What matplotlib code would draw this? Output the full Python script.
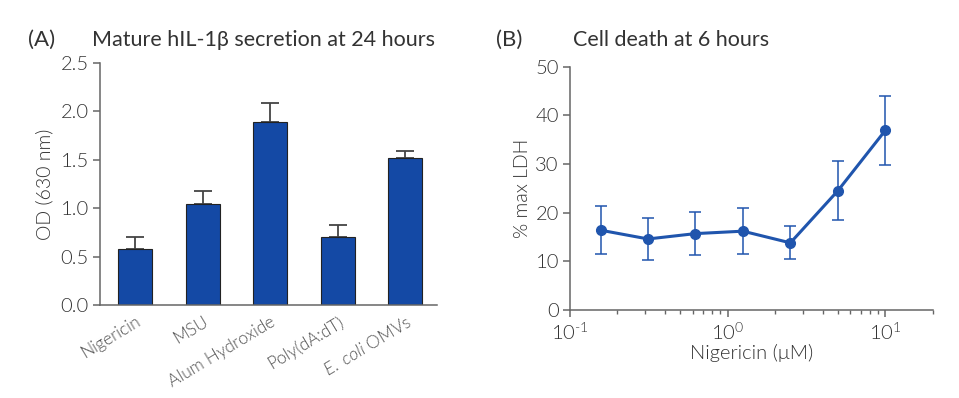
import matplotlib
matplotlib.use("Agg")
import matplotlib.pyplot as plt
import numpy as np
from matplotlib.ticker import FixedLocator, LogLocator, NullFormatter

plt.rcParams['font.family'] = ['Lato', 'DejaVu Sans']
plt.rcParams['mathtext.fontset'] = 'custom'
plt.rcParams['mathtext.rm'] = 'Lato:weight=300'
plt.rcParams['mathtext.it'] = 'Lato:style=italic:weight=300'

# Panel A data
categories = ["Nigericin", "MSU", "Alum Hydroxide", "Poly(dA:dT)", "$\\mathit{E.\\ coli}$ OMVs"]
od_values = [0.575, 1.04, 1.89, 0.70, 1.515]
od_err = [0.13, 0.14, 0.20, 0.13, 0.08]

# Panel B data
conc = [0.15625, 0.3125, 0.625, 1.25, 2.5, 5.0, 10.0]
ldh = [16.4, 14.6, 15.7, 16.2, 13.8, 24.5, 36.9]
ldh_err = [4.9, 4.3, 4.4, 4.7, 3.4, 6.1, 7.1]
xtick_vals = [0.1, 1, 10]
xtick_labels = ["$\\mathregular{10^{\\text{-}1}}$", "$\\mathregular{10^{0}}$", "$\\mathregular{10^{1}}$"]

bar_color = "#1449a5"
line_color = "#2055ad"
spine_color = "#666666"
text_color = "#333333"
W = 300

fig = plt.figure(figsize=(9.59, 3.98), dpi=100)

# ---------- Panel A ----------
axA = fig.add_axes([0.1043, 0.2337, 0.3514, 0.6080])
x = np.arange(len(categories))
axA.bar(x, od_values, width=0.5, color=bar_color, edgecolor="#222222", linewidth=0.8, zorder=2)
axA.errorbar(x, od_values, yerr=[np.zeros(len(od_err)), od_err], fmt='none',
             ecolor="#444444", elinewidth=1.3, capsize=6.5, capthick=1.3, zorder=1)
axA.set_xlim(-0.52, 4.47)
axA.set_ylim(0, 2.5)
axA.set_yticks([0.0, 0.5, 1.0, 1.5, 2.0, 2.5])
axA.set_yticklabels(["0.0", "0.5", "1.0", "1.5", "2.0", "2.5"])
axA.set_xticks(x)
axA.set_xticklabels(categories, rotation=31, ha='right', rotation_mode='anchor',
                    fontsize=12.5, color="#555555", fontweight=W)
axA.tick_params(axis='x', length=0, pad=6)
axA.tick_params(axis='y', length=5, width=1.1, color=spine_color, labelsize=14.5,
                labelcolor=text_color, pad=3)
for lab in axA.get_yticklabels():
    lab.set_fontweight(W)
axA.set_ylabel("OD (630 nm)", fontsize=14, color=text_color, fontweight=W, labelpad=5)
for s in ['top', 'right']:
    axA.spines[s].set_visible(False)
for s in ['left', 'bottom']:
    axA.spines[s].set_color(spine_color)
    axA.spines[s].set_linewidth(1.1)
fig.text(0.029, 0.90, "(A)", fontsize=16, color=text_color, va='center', ha='left')
fig.text(0.096, 0.90, "Mature hIL-1β secretion at 24 hours", fontsize=15.5, color=text_color,
         va='center', ha='left')

# ---------- Panel B ----------
axB = fig.add_axes([0.5944, 0.2211, 0.3782, 0.6113])
axB.errorbar(conc, ldh, yerr=ldh_err, fmt='-o', color=line_color, ecolor=line_color,
             linewidth=2.2, markersize=7, elinewidth=1.1, capsize=4.5, capthick=1.1)
axB.set_xscale('log')
axB.set_xlim(0.1, 20)
axB.set_ylim(0, 50)
axB.set_yticks([0, 10, 20, 30, 40, 50])
axB.xaxis.set_major_locator(FixedLocator(xtick_vals))
axB.set_xticks(xtick_vals)
axB.set_xticklabels(xtick_labels)
axB.xaxis.set_minor_locator(LogLocator(base=10, subs=np.arange(2, 10), numticks=20))
axB.xaxis.set_minor_formatter(NullFormatter())
axB.tick_params(axis='both', which='major', length=5, width=1.1, color=spine_color,
                labelsize=14.5, labelcolor=text_color, pad=3)
axB.tick_params(axis='x', which='minor', length=3, width=1.0, color=spine_color)
for lab in axB.get_yticklabels() + axB.get_xticklabels():
    lab.set_fontweight(W)
axB.set_xlabel("Nigericin (μM)", fontsize=14.5, color=text_color, fontweight=W, labelpad=1)
axB.set_ylabel("% max LDH", fontsize=14, color=text_color, fontweight=W, labelpad=3)
for s in ['top', 'right']:
    axB.spines[s].set_visible(False)
for s in ['left', 'bottom']:
    axB.spines[s].set_color(spine_color)
    axB.spines[s].set_linewidth(1.1)
fig.text(0.517, 0.90, "(B)", fontsize=16, color=text_color, va='center', ha='left')
fig.text(0.597, 0.90, "Cell death at 6 hours", fontsize=15.5, color=text_color,
         va='center', ha='left')

fig.savefig("out.png", dpi=100)
